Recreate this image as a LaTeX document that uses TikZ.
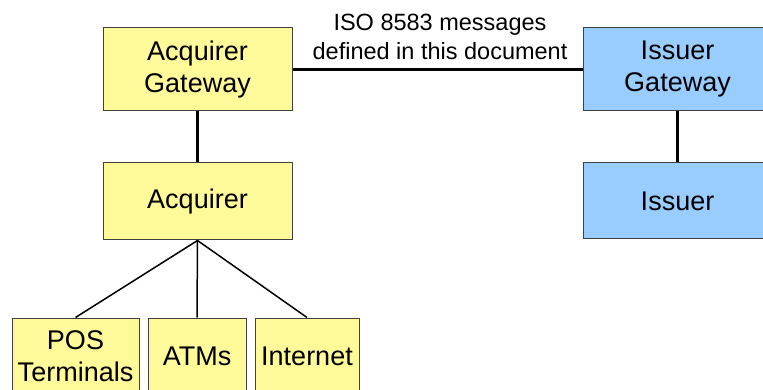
\documentclass[tikz,border=0pt]{standalone}
\usepackage{fontspec}
\setmainfont{Liberation Sans}
\begin{document}
\begin{tikzpicture}[x=1pt,y=-1pt,
    box/.style={draw=black!75,line width=1pt,align=center,inner sep=0pt,
        font=\fontsize{27}{32}\selectfont},
    acqbox/.style={box,fill=yellow!40},
    issbox/.style={box,fill={rgb,255:red,153;green,204;blue,255}},
    link/.style={line width=3pt},
    fan/.style={line width=1.5pt}]
            \path[use as bounding box,clip] (0,0) rectangle (763,390);
            % Nodes
            \node[acqbox,minimum width=189pt,minimum height=83pt] (agw) at (197.5,69.5){Acquirer\\Gateway};
            \node[acqbox,minimum width=189pt,minimum height=77pt] (acq) at (197.5,201.5){Acquirer};
            \node[issbox,minimum width=189pt,minimum height=83pt] (igw) at (677.5,69.5){Issuer\\Gateway};
            \node[issbox,minimum width=189pt,minimum height=76pt] (iss) at (677.5,201){Issuer};
            \node[acqbox,minimum width=127pt,minimum height=76pt] (pos) at (75.5,356){POS\\Terminals};
            \node[acqbox,minimum width=98pt,minimum height=76pt] (atm) at (197,356){ATMs};
            \node[acqbox,minimum width=104pt,minimum height=76pt] (net) at (307,356){Internet};
            \node[align=center,font=\fontsize{23.5}{29}\selectfont] (msg) at (440,37){ISO 8583 messages\\defined in this document};
            % Edges
            \draw[link] (agw) -- (acq);
            \draw[link] (igw) -- (iss);
            \draw[link] (agw) -- (igw);
            \draw[fan] (acq.south) -- (pos.north);
            \draw[fan] (acq.south) -- (atm.north);
            \draw[fan] (acq.south) -- (net.north);
\end{tikzpicture}
\end{document}
